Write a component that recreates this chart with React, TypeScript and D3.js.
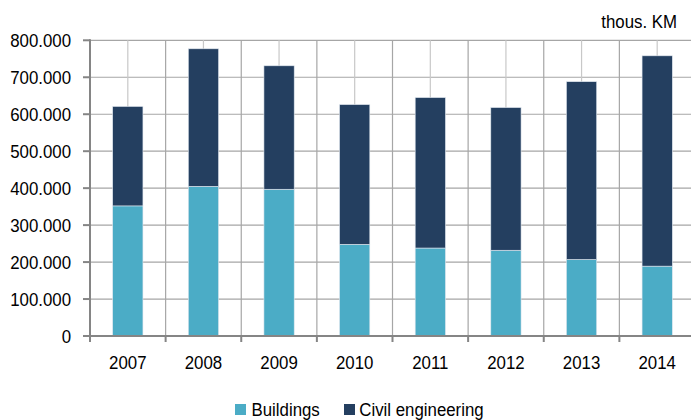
import React from "react";
import * as d3 from "d3";

const years = ["2007", "2008", "2009", "2010", "2011", "2012", "2013", "2014"];
const buildings = [352, 405, 397, 248, 238, 232, 207, 189];
const civilTotal = [621, 777, 731, 626, 645, 618, 688, 758];
const civil = civilTotal.map((t, i) => t - buildings[i]);
const yTicks = [0, 100, 200, 300, 400, 500, 600, 700, 800];
const seriesNames = ["Buildings", "Civil engineering"];
const colors = ["#4bacc6", "#243f60"];

const W = 691;
const H = 420;
const left = 90;
const right = 695;
const top = 40.3;
const bottom = 336;
const FONT = "'Liberation Sans', Arial, sans-serif";
const FS = 18.5;
const SX = 0.91;

export default function App() {
  const x = d3.scaleBand<string>().domain(years).range([left, right]).paddingInner(0.6).paddingOuter(0.3);
  const xb = d3.scaleBand<string>().domain(years).range([left, right]);
  const y = d3.scaleLinear().domain([0, 800]).range([bottom, top]);
  const label = (v: number) => (v === 0 ? "0" : `${v}.000`);

  const stacked = years.map((yr, i) => ({ yr, b: buildings[i], c: civil[i] }));
  const stack = d3.stack<any>().keys(["b", "c"])(stacked as any);

  const T = (px: number, py: number, txt: string, anchor: string, key?: any) => (
    <text
      key={key}
      transform={`translate(${px},${py}) scale(${SX},1)`}
      textAnchor={anchor as any}
      fontFamily={FONT}
      fontSize={FS}
      fill="#000"
    >
      {txt}
    </text>
  );

  return (
    <svg width={W} height={H} style={{ position: "absolute", left: 0, top: 0, background: "#fff" }}>
      {yTicks.slice(1).map((t) => (
        <line key={"h" + t} x1={left} x2={W} y1={y(t)} y2={y(t)} stroke="#a6a6a6" strokeWidth={1.2} />
      ))}
      {years.map((yr) => (
        <line key={"vc" + yr} x1={xb(yr)! + xb.bandwidth() / 2} x2={xb(yr)! + xb.bandwidth() / 2} y1={top} y2={bottom} stroke="#c8c8c8" strokeWidth={1.2} />
      ))}
      {years.slice(1).map((yr) => (
        <line key={"vb" + yr} x1={xb(yr)!} x2={xb(yr)!} y1={top} y2={bottom} stroke="#a6a6a6" strokeWidth={1.2} />
      ))}
      {stack.map((s, si) =>
        s.map((d, i) => (
          <rect
            key={si + "-" + i}
            x={x(years[i])!}
            width={x.bandwidth()}
            y={y(d[1])}
            height={y(d[0]) - y(d[1])}
            fill={colors[si]}
            stroke="#dfe6ee"
            strokeWidth={0.6}
          />
        ))
      )}
      <line x1={left} x2={left} y1={top - 1} y2={bottom + 6} stroke="#858585" strokeWidth={2} />
      {yTicks.map((t) => (
        <line key={"yt" + t} x1={left - 7} x2={left} y1={y(t)} y2={y(t)} stroke="#858585" strokeWidth={2} />
      ))}
      {yTicks.map((t) => T(71, y(t) + 6.7, label(t), "end", "yl" + t))}
      <line x1={left} x2={W} y1={bottom} y2={bottom} stroke="#858585" strokeWidth={2} />
      {years.slice(1).map((yr) => (
        <line key={"xt" + yr} x1={xb(yr)!} x2={xb(yr)!} y1={bottom} y2={bottom + 6} stroke="#858585" strokeWidth={2} />
      ))}
      {years.map((yr) => T(xb(yr)! + xb.bandwidth() / 2, 368.5, yr, "middle", "xl" + yr))}
      {T(677, 28.3, "thous. KM", "end", "unit")}
      <rect x={235} y={404} width={11} height={11} fill={colors[0]} />
      {T(251.5, 416, seriesNames[0], "start", "lg0")}
      <rect x={344} y={404} width={11} height={11} fill={colors[1]} />
      {T(359.3, 416, seriesNames[1], "start", "lg1")}
    </svg>
  );
}
